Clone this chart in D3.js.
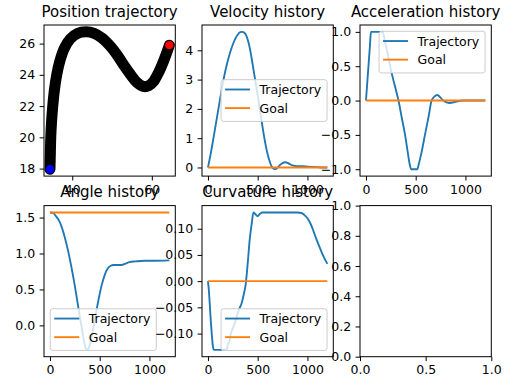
<!DOCTYPE html>
<html>
<head>
<meta charset="utf-8">
<script src="https://cdn.jsdelivr.net/npm/d3@7"></script>
<style>
  html, body { margin: 0; padding: 0; background: #fff; }
  svg { display: block; font-family: "DejaVu Sans", sans-serif; }
</style>
</head>
<body>
<script>
// values
const positionPath = [
  [34.4, 17.96], [34.5, 19.0], [34.6, 20.0], [34.8, 21.0], [35.1, 22.0], [35.5, 23.0],
  [36.1, 24.0], [36.9, 24.9], [38.0, 25.7], [39.5, 26.3], [41.3, 26.65], [43.5, 26.75],
  [45.5, 26.65], [47.5, 26.35], [49.5, 25.85], [51.2, 25.3], [53.0, 24.6], [54.7, 24.0],
  [56.3, 23.5], [57.8, 23.26], [59.2, 23.3], [60.5, 23.6], [61.8, 24.2], [62.9, 24.85],
  [63.8, 25.45], [64.4, 25.9]
];
const startPoint = [34.4, 17.96];
const endPoint = [64.4, 25.9];

const velocityTrajectory = [
  [0, 0], [25, 0.42], [50, 0.9], [75, 1.4], [100, 1.9], [125, 2.4], [150, 2.88], [175, 3.3],
  [200, 3.65], [225, 3.95], [250, 4.2], [275, 4.4], [300, 4.54], [325, 4.62], [345, 4.63],
  [365, 4.6], [385, 4.5], [405, 4.3], [425, 4.0], [450, 3.5], [475, 2.98], [500, 2.45],
  [525, 1.9], [550, 1.35], [575, 0.85], [600, 0.45], [625, 0.16], [650, -0.02], [675, -0.06],
  [700, -0.01], [725, 0.09], [750, 0.15], [775, 0.18], [800, 0.16], [825, 0.11], [850, 0.07],
  [875, 0.05], [900, 0.04], [950, 0.04], [1000, 0.03], [1050, 0.02], [1100, 0.01],
  [1150, 0.0], [1200, 0.0]
];
const accelerationTrajectory = [
  [0, 0], [10, 0.2], [20, 0.4], [30, 0.6], [40, 0.8], [50, 1.0], [100, 1.0], [170, 1.0],
  [185, 0.9], [200, 0.8], [220, 0.67], [243, 0.5], [270, 0.33], [300, 0.16], [327, 0.0],
  [360, -0.25], [393, -0.5], [420, -0.75], [440, -0.93], [455, -1.0], [515, -1.0],
  [530, -0.93], [555, -0.78], [593, -0.5], [630, -0.23], [660, 0.0], [690, 0.06],
  [717, 0.08], [745, 0.05], [777, 0.0], [810, -0.025], [843, -0.035], [880, -0.025],
  [920, -0.01], [977, 0.0], [1200, 0.0]
];
const angleTrajectory = [
  [0, 1.5708], [30, 1.565], [60, 1.52], [90, 1.46], [120, 1.36], [150, 1.22], [180, 1.05],
  [210, 0.85], [240, 0.63], [270, 0.38], [300, 0.12], [330, -0.12], [350, -0.27],
  [370, -0.34], [385, -0.33], [405, -0.24], [430, -0.08], [460, 0.15], [490, 0.37],
  [520, 0.56], [550, 0.7], [580, 0.79], [610, 0.83], [640, 0.84], [680, 0.84], [720, 0.84],
  [760, 0.86], [800, 0.88], [860, 0.89], [950, 0.9], [1050, 0.9], [1200, 0.905]
];
const curvatureTrajectory = [
  [0, 0], [10, -0.02], [20, -0.05], [30, -0.08], [40, -0.105], [50, -0.125], [60, -0.131],
  [100, -0.131], [150, -0.131], [190, -0.13], [200, -0.12], [215, -0.115], [230, -0.1],
  [250, -0.09], [270, -0.08], [290, -0.067], [310, -0.055], [340, -0.041], [360, -0.025],
  [380, -0.005], [400, 0.035], [420, 0.08], [440, 0.11], [457, 0.131], [475, 0.128],
  [500, 0.124], [520, 0.128], [545, 0.131], [600, 0.131], [700, 0.131], [800, 0.131],
  [900, 0.131], [940, 0.13], [970, 0.126], [1000, 0.12], [1030, 0.11], [1060, 0.096],
  [1090, 0.08], [1120, 0.066], [1150, 0.052], [1180, 0.04], [1200, 0.033]
];
const zeroGoal = [[0, 0], [1200, 0]];
const angleGoal = [[0, 1.5708], [1200, 1.5708]];

const titles = ["Position trajectory", "Velocity history", "Acceleration history",
  "Angle history", "Curvature history"];
const legendLabels = ["Trajectory", "Goal"];

const positionXTicks = [40, 60];
const positionYTicks = [18, 20, 22, 24, 26];
const timeTicks = [0, 500, 1000];
const velocityTicks = [0, 1, 2, 3, 4];
const accelerationTicks = [-1, -0.5, 0, 0.5, 1];
const angleTicks = [0, 0.5, 1, 1.5];
const curvatureTicks = [-0.1, -0.05, 0, 0.05, 0.1];
const emptyXTicks = [0, 0.5, 1];
const emptyYTicks = [0, 0.2, 0.4, 0.6, 0.8, 1];

const W = 510, H = 386;
const colLeft = [44, 202, 360];
const rowTop = [25, 205.6];
const axW = 131.3, axH = 151.1;
const blue = "#1f77b4", orange = "#ff7f0e";

const svg = d3.select("body").append("svg")
  .attr("width", W)
  .attr("height", H);

svg.append("rect").attr("width", W).attr("height", H).attr("fill", "#fff");

function padded(ext) {
  const m = (ext[1] - ext[0]) * 0.05;
  return [ext[0] - m, ext[1] + m];
}

let clipCount = 0;

function panel(cfg) {
  const g = svg.append("g").attr("transform", `translate(${cfg.left},${cfg.top})`);
  const x = d3.scaleLinear().domain(cfg.xDomain).range([0, axW]);
  const y = d3.scaleLinear().domain(cfg.yDomain).range([axH, 0]);

  g.append("rect").attr("width", axW).attr("height", axH).attr("fill", "#fff");

  const clipId = `clip-${clipCount++}`;
  g.append("clipPath").attr("id", clipId)
    .append("rect").attr("width", axW).attr("height", axH);
  const plot = g.append("g").attr("clip-path", `url(#${clipId})`);

  if (cfg.draw) cfg.draw(plot, x, y);

  // ticks
  const xAxis = g.append("g").attr("transform", `translate(0,${axH})`)
    .call(d3.axisBottom(x).tickValues(cfg.xTicks).tickFormat(cfg.xFormat)
      .tickSize(4.4).tickPadding(4.4));
  const yAxis = g.append("g")
    .call(d3.axisLeft(y).tickValues(cfg.yTicks).tickFormat(cfg.yFormat)
      .tickSize(4.4).tickPadding(4.4));
  [xAxis, yAxis].forEach((a) => {
    a.select(".domain").remove();
    a.selectAll("line").attr("stroke", "#000").attr("stroke-width", 1);
    a.selectAll("text").attr("font-size", 12.5).attr("fill", "#000")
      .attr("font-family", "DejaVu Sans");
  });

  // spines
  g.append("rect").attr("width", axW).attr("height", axH)
    .attr("fill", "none").attr("stroke", "#000").attr("stroke-width", 1);

  if (cfg.legend) drawLegend(g, cfg.legend);

  if (cfg.title) {
    g.append("text")
      .attr("x", axW / 2)
      .attr("y", -8.5)
      .attr("text-anchor", "middle")
      .attr("font-size", 15)
      .attr("fill", "#000")
      .text(cfg.title);
  }
}

function drawLegend(g, loc) {
  const lw = 106, lh = 41.7, pad = 6.25;
  let lx = loc.includes("left") ? pad : axW - pad - lw;
  let ly;
  if (loc.startsWith("upper")) ly = pad;
  else if (loc.startsWith("lower")) ly = axH - pad - lh;
  else ly = (axH - lh) / 2;

  const lg = g.append("g").attr("transform", `translate(${lx},${ly})`);
  lg.append("rect")
    .attr("width", lw).attr("height", lh)
    .attr("rx", 2.5).attr("ry", 2.5)
    .attr("fill", "#fff").attr("fill-opacity", 0.8)
    .attr("stroke", "#cccccc").attr("stroke-width", 1);

  const rows = [9.8, 28.4];
  [blue, orange].forEach((color, i) => {
    lg.append("line")
      .attr("x1", 4).attr("x2", 29)
      .attr("y1", rows[i]).attr("y2", rows[i])
      .attr("stroke", color).attr("stroke-width", 1.875);
    lg.append("text")
      .attr("x", 38.5).attr("y", rows[i])
      .attr("dy", "0.36em")
      .attr("font-size", 12.5)
      .attr("fill", "#000")
      .text(legendLabels[i]);
  });
}

function historyDraw(series, goal) {
  return (plot, x, y) => {
    const line = d3.line().x((d) => x(d[0])).y((d) => y(d[1])).curve(d3.curveMonotoneX);
    plot.append("path").datum(series)
      .attr("d", line).attr("fill", "none")
      .attr("stroke", blue).attr("stroke-width", 1.875).attr("stroke-linejoin", "round");
    plot.append("path").datum(goal)
      .attr("d", d3.line().x((d) => x(d[0])).y((d) => y(d[1])))
      .attr("fill", "none")
      .attr("stroke", orange).attr("stroke-width", 1.875);
  };
}

function historyPanel(col, row, title, series, goal, ticks, fmt, legend) {
  const vals = series.concat(goal).map((d) => d[1]);
  panel({
    left: colLeft[col], top: rowTop[row], title,
    xDomain: padded(d3.extent(series, (d) => d[0])),
    yDomain: padded(d3.extent(vals)),
    xTicks: timeTicks, xFormat: d3.format("d"),
    yTicks: ticks, yFormat: fmt,
    legend,
    draw: historyDraw(series, goal)
  });
}

// 1. position trajectory
panel({
  left: colLeft[0], top: rowTop[0], title: titles[0],
  xDomain: padded(d3.extent(positionPath, (d) => d[0])),
  yDomain: padded(d3.extent(positionPath, (d) => d[1])),
  xTicks: positionXTicks, xFormat: d3.format("d"),
  yTicks: positionYTicks, yFormat: d3.format("d"),
  draw: (plot, x, y) => {
    plot.append("path").datum(positionPath)
      .attr("d", d3.line().x((d) => x(d[0])).y((d) => y(d[1])).curve(d3.curveCatmullRom.alpha(0.5)))
      .attr("fill", "none").attr("stroke", "#000").attr("stroke-width", 11)
      .attr("stroke-linecap", "round").attr("stroke-linejoin", "round");
    plot.append("circle").attr("cx", x(startPoint[0])).attr("cy", y(startPoint[1]))
      .attr("r", 4.2).attr("fill", "#0000ff");
    plot.append("circle").attr("cx", x(endPoint[0])).attr("cy", y(endPoint[1]))
      .attr("r", 4.2).attr("fill", "#ff0000");
  }
});

historyPanel(1, 0, titles[1], velocityTrajectory, zeroGoal, velocityTicks, d3.format("d"), "center right");
historyPanel(2, 0, titles[2], accelerationTrajectory, zeroGoal, accelerationTicks, d3.format(".1f"), "upper right");
historyPanel(0, 1, titles[3], angleTrajectory, angleGoal, angleTicks, d3.format(".1f"), "lower left");
historyPanel(1, 1, titles[4], curvatureTrajectory, zeroGoal, curvatureTicks, d3.format(".2f"), "lower right");

// 6. empty axes
panel({
  left: colLeft[2], top: rowTop[1],
  xDomain: [0, 1], yDomain: [0, 1],
  xTicks: emptyXTicks, xFormat: d3.format(".1f"),
  yTicks: emptyYTicks, yFormat: d3.format(".1f")
});
</script>
</body>
</html>
